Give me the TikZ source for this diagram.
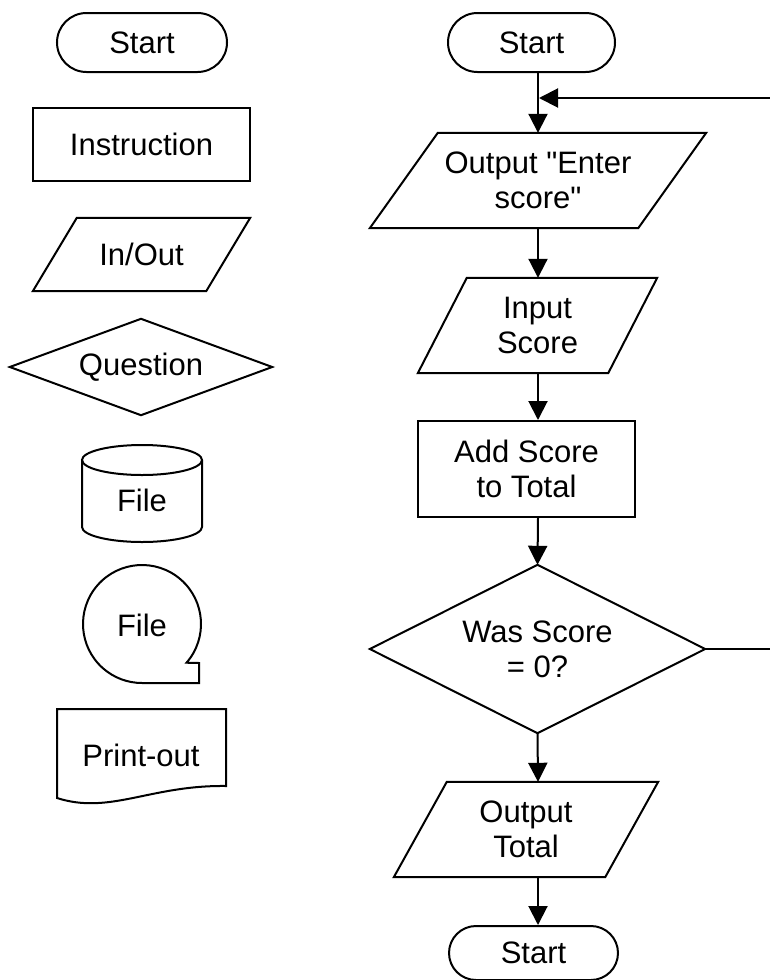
\documentclass[tikz,border=0pt]{standalone}
\usepackage{fontspec}
\setmainfont{Liberation Sans}[Ligatures=TeXOff]
\usetikzlibrary{shapes.misc,arrows.meta,calc}
\newcommand\ioshape[7]{%
  \node[txt, minimum width=#4pt, minimum height=#5pt] (#1) at (#2,#3) {#7};
  \draw[outline] ($(#1.north west)+(#6,0)$) -- (#1.north east)
     -- ($(#1.south east)-(#6,0)$) -- (#1.south west) -- cycle;}
\newcommand\diashape[6]{%
  \node[txt, minimum width=#4pt, minimum height=#5pt] (#1) at (#2,#3) {#6};
  \draw[outline] (#1.north) -- (#1.east) -- (#1.south) -- (#1.west) -- cycle;}
\begin{document}
\begin{tikzpicture}[x=1pt,y=1pt,
  txt/.style={font=\fontsize{31}{35}\selectfont, align=center, inner sep=0pt},
  outline/.style={line width=2pt, line join=miter},
  term/.style={txt, draw, line width=2pt, rounded rectangle, minimum height=59pt},
  boxnode/.style={txt, draw, line width=2pt, rectangle},
  arr/.style={line width=2pt, -{Triangle[length=19pt,width=19pt]}}]
\useasboundingbox (0,0) rectangle (769,-980);

% ---------------- left legend column ----------------
\node[term, minimum width=170pt] (ls) at (142,-42.5) {Start};
\node[boxnode, minimum width=217pt, minimum height=73pt] (li) at (141.5,-144.5) {Instruction};
\ioshape{lio}{141.5}{-254.5}{217}{73}{44}{In/Out}
\diashape{lq}{141}{-367}{262}{96}{Question}

% cylinder (file)
\draw[outline] (202,-460) -- (202,-527)
   arc[start angle=0, end angle=-180, x radius=60, y radius=15] -- (82,-460);
\draw[outline] (142,-460) ellipse [x radius=60, y radius=15];
\node[txt] (lf1) at (142,-500) {File};

% circle with tail (file)
\draw[outline] ($(142,-624)+(-41:59)$)
   arc[start angle=-41, end angle=270, radius=59] -- (199,-683) -- (199,-663) -- cycle;
\node[txt] (lf2) at (142,-625) {File};

% print-out (document)
\draw[outline] (57,-798) -- (57,-709) -- (226,-709) -- (226,-786)
   .. controls (150,-785) and (110,-815) .. (57,-798) -- cycle;
\node[txt] (lp) at (141,-755) {Print-out};

% ---------------- right flowchart ----------------
\coordinate (spine) at (538,0);
\node[term, minimum width=167pt] (rs) at (531.5,-42.5) {Start};
\ioshape{o1}{538}{-180.5}{336}{95}{68}{Output "Enter\\score"}
\ioshape{in}{537.5}{-325.5}{239}{95}{49}{Input\\Score}
\node[boxnode, minimum width=217pt, minimum height=96pt] (add) at (526.5,-469) {Add Score\\to Total};
\diashape{q}{537.5}{-649}{335}{168}{Was Score\\= 0?}
\ioshape{out}{526}{-829.5}{264}{95}{53}{Output\\Total}
\node[term, minimum width=169pt, minimum height=54pt] (re) at (533.5,-953) {Start};

\draw[arr] (rs.south -| spine) -- (o1.north -| spine);
\draw[arr] (o1.south -| spine) -- (in.north -| spine);
\draw[arr] (in.south -| spine) -- (add.north -| spine);
\draw[arr] (add.south -| spine) -- (q.north);
\draw[arr] (q.south) -- (out.north -| spine);
\draw[arr] (out.south -| spine) -- (re.north -| spine);

\coordinate (loopin) at (539,-98);
\coordinate (edge) at (774,0);
\draw[arr] (q.east) -- (q.east -| edge) |- (loopin);
\end{tikzpicture}
\end{document}
